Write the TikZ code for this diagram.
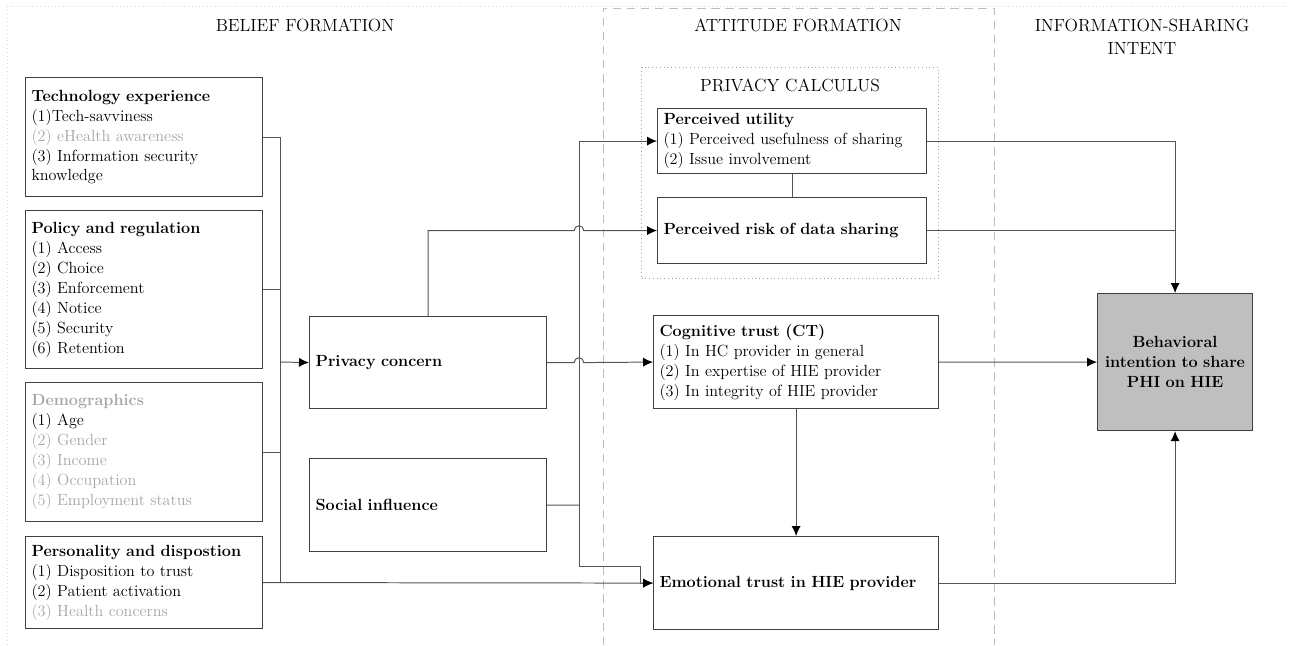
\documentclass[tikz,border=0pt]{standalone}
\usetikzlibrary{arrows.meta}

\definecolor{boxline}{HTML}{404040}
\definecolor{wire}{HTML}{555555}
\definecolor{dimtext}{HTML}{A6A6A6}
\definecolor{intentfill}{HTML}{BFBFBF}
\definecolor{zoneline}{HTML}{BDBDBD}
\definecolor{pageframe}{HTML}{DADADA}

\newcommand{\dimmed}[1]{\textcolor{dimtext}{#1}}

\tikzset{
  txt/.style={font=\fontsize{11.5}{14.2}\selectfont},
  box/.style={txt, draw=boxline, line width=0.8pt, anchor=north west, align=left, inner xsep=0.15cm, inner ysep=0pt},
  wire/.style={draw=wire, line width=0.7pt},
  arr/.style={wire, -{Latex[length=2.5mm,width=2.3mm,color=black]}},
  zone/.style={draw=zoneline, line width=0.7pt, dash pattern=on 6pt off 4pt},
  heading/.style={font=\fontsize{12.5}{16.4}\selectfont, align=center}
}

\begin{document}
\begin{tikzpicture}[x=0.025cm, y=-0.025cm]
	% page setup
	
	\def\busx{280}
	\def\spinex{579}
	
	\useasboundingbox (0,0) rectangle (1289,645);
	
	% zones
	\draw[pageframe, dotted, line width=0.7pt] (7,645) -- (7,6) -- (1289,6);
	\draw[zone] (603,645) -- (603,8) -- (994,8) -- (994,645);
	
	\node[heading] (belief) at (305,25) {BELIEF FORMATION};
	\node[heading] (attitude) at (798,25) {ATTITUDE FORMATION};
	\node[heading] (intent) at (1142,37) {INFORMATION-SHARING\\INTENT};
	
	% belief formation
	\node[box, text width=5.625cm, minimum height=2.975cm] (tech) at (25,77)
		{\textbf{Technology experience}\\(1)Tech-savviness\\\dimmed{(2) eHealth awareness}\\(3) Information security\\knowledge};
	\node[box, text width=5.625cm, minimum height=3.95cm] (policy) at (25,210)
		{\textbf{Policy and regulation}\\(1) Access\\(2) Choice\\(3) Enforcement\\(4) Notice\\(5) Security\\(6) Retention};
	\node[box, text width=5.625cm, minimum height=3.475cm] (demo) at (25,382)
		{\dimmed{\textbf{Demographics}}\\(1) Age\\\dimmed{(2) Gender}\\\dimmed{(3) Income}\\\dimmed{(4) Occupation}\\\dimmed{(5) Employment status}};
	\node[box, text width=5.625cm, minimum height=2.3cm] (person) at (25,536)
		{\textbf{Personality and dispostion}\\(1) Disposition to trust\\(2) Patient activation\\\dimmed{(3) Health concerns}};
	
	\node[box, text width=5.625cm, minimum height=2.3cm] (privacy) at (309,316) {\textbf{Privacy concern}};
	\node[box, text width=5.625cm, minimum height=2.325cm] (social) at (309,458) {\textbf{Social influence}};
	
	% attitude formation
	\node[draw=gray!75, dotted, line width=0.7pt, anchor=north west, minimum width=7.425cm, minimum height=5.275cm, inner sep=0pt] (calc) at (641,67) {};
	\node[heading] (calctitle) at (790,85) {PRIVACY CALCULUS};
	
	\node[box, text width=6.425cm, minimum height=1.625cm] (utility) at (657,108)
		{\textbf{Perceived utility}\\(1) Perceived usefulness of sharing\\(2) Issue involvement};
	\node[box, text width=6.425cm, minimum height=1.65cm] (risk) at (657,197) {\textbf{Perceived risk of data sharing}};
	
	\node[box, text width=6.825cm, minimum height=2.325cm] (cognitive) at (653,315)
		{\textbf{Cognitive trust (CT)}\\(1) In HC provider in general\\(2) In expertise of HIE provider\\(3) In integrity of HIE provider};
	\node[box, text width=6.825cm, minimum height=2.325cm] (emotional) at (653,536) {\textbf{Emotional trust in HIE provider}};
	
	% intent
	\node[box, fill=intentfill, align=center, text width=3.575cm, minimum height=3.425cm, font=\fontsize{11.5}{14.2}\selectfont\bfseries] (behav) at (1097,293)
		{Behavioral\\intention to share\\PHI on HIE};
	
	% connectors
	\coordinate (bus) at (\busx,362);
	\coordinate (spine) at (\spinex,505);
	\coordinate (elbow) at (640,566);
	
	\draw[wire] (tech.east) -| (bus |- person.east);
	\draw[wire] (policy.east) -- (bus |- policy.east);
	\draw[wire] (demo.east) -- (bus |- demo.east);
	\draw[arr] (bus) -- (privacy.west);
	\draw[arr] (person.east) -- (emotional.west);
	
	\draw[arr] (privacy.north) |- ([xshift=-1.2mm]spine |- risk.west) arc[start angle=180, end angle=0, radius=1.2mm] -- (risk.west);
	\draw[arr] (privacy.east) -- ([xshift=-1.2mm]spine |- privacy.east) arc[start angle=180, end angle=0, radius=1.2mm] -- (cognitive.west);
	
	\draw[wire] (social.east) -- (spine);
	\draw[arr] (spine) |- (utility.west);
	\draw[arr] (spine) |- (elbow) |- (emotional.west);
	
	\draw[wire] (utility.south) -- (risk.north);
	\draw[arr] (cognitive.south) -- (emotional.north);
	
	\draw[arr] (utility.east) -| (behav.north);
	\draw[wire] (risk.east) -- (behav.north |- risk.east);
	\draw[arr] (cognitive.east) -- (behav.west);
	\draw[arr] (emotional.east) -| (behav.south);
\end{tikzpicture}
\end{document}
